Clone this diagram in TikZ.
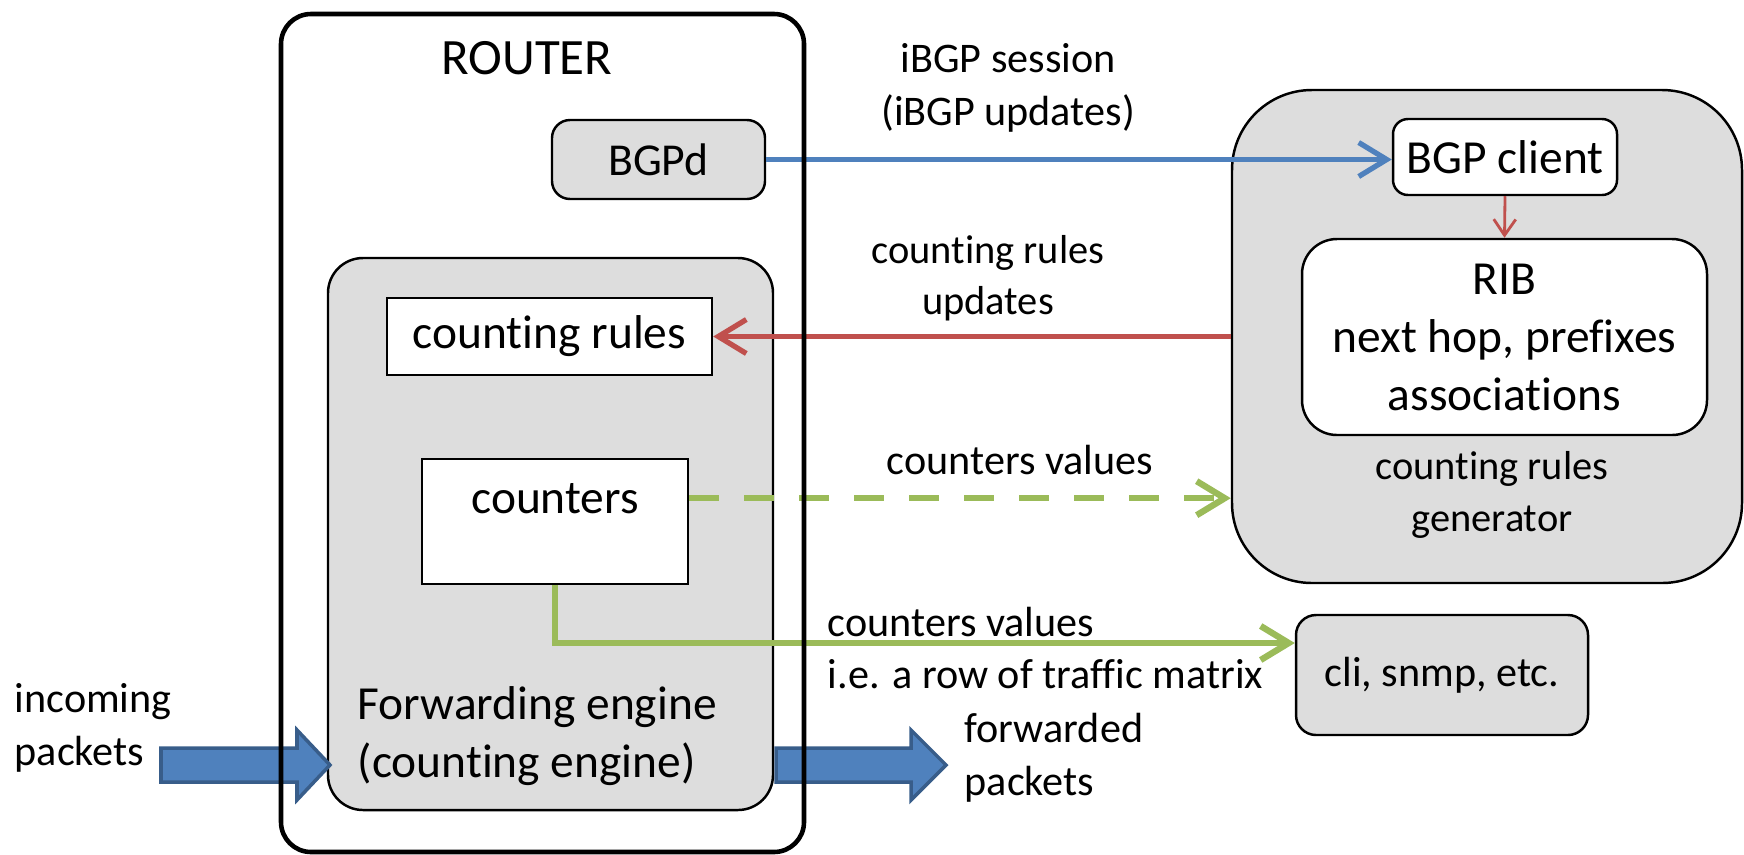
\documentclass[tikz,border=0pt]{standalone}
\usepackage{fontspec}
\setmainfont{Carlito}[Ligatures=NoCommon]
\usetikzlibrary{arrows.meta}

\definecolor{boxgray}{HTML}{DDDDDD}
\definecolor{bgpblue}{HTML}{4F81BD}
\definecolor{arrowborder}{HTML}{385D8A}
\definecolor{rulered}{HTML}{C0504D}
\definecolor{countgreen}{HTML}{9BBB59}

\begin{document}
\begin{tikzpicture}
        % Styles
        \tikzstyle{label text}=[font=\fontsize{12}{15}\selectfont,align=center,inner sep=0pt]
        \tikzstyle{box text}=[font=\fontsize{13.5}{16.5}\selectfont,align=center,inner sep=0pt]
        \tikzstyle{gray box}=[draw,line width=0.7pt,fill=boxgray,rounded corners=0.18cm,box text]
        \tikzstyle{white box}=[draw,line width=0.7pt,fill=white,box text]
        \tikzstyle{block arrow}=[draw=arrowborder,line width=1pt,fill=bgpblue,line join=miter]
        \tikzstyle{session line}=[bgpblue,line width=1.5pt,-{Straight Barb[length=0.28cm,width=0.34cm]}]
        \tikzstyle{rules line}=[rulered,line width=1.5pt,-{Straight Barb[length=0.28cm,width=0.34cm]}]
        \tikzstyle{rib line}=[rulered,line width=0.8pt,-{Straight Barb[length=0.16cm,width=0.22cm]}]
        \tikzstyle{values line}=[countgreen,line width=1.8pt,-{Straight Barb[length=0.28cm,width=0.34cm]}]
        %The graphic
        \useasboundingbox (0,0) rectangle (17.44,-8.54);
        %router side
        \node[gray box,font=\fontsize{13}{16}\selectfont,minimum width=2.13cm,minimum height=0.79cm] (bgpd) at (6.585,-1.595) {BGPd};
        \node[gray box,rounded corners=0.35cm,minimum width=4.45cm,minimum height=5.52cm] (fwd) at (5.505,-5.34) {};
        \node[white box,minimum width=3.25cm,minimum height=0.77cm] (rules) at (5.495,-3.365) {counting rules};
        \node[white box,minimum width=2.66cm,minimum height=1.25cm] (counters) at (5.55,-5.215) {};
        \node[box text,anchor=base] (counterstext) at (5.55,-5.13) {counters};
        \node[box text,align=left,anchor=west] (fwdtext) at (3.57,-7.36) {Forwarding engine\\(counting engine)};
        %generator side
        \node[gray box,rounded corners=0.8cm,minimum width=5.1cm,minimum height=4.93cm] (generator) at (14.87,-3.365) {};
        \node[white box,rounded corners=0.15cm,minimum width=2.24cm,minimum height=0.76cm] (client) at (15.05,-1.57) {BGP client};
        \node[white box,rounded corners=0.35cm,minimum width=4.05cm,minimum height=1.96cm] (rib) at (15.045,-3.37) {RIB\\next hop, prefixes\\associations};
        \node[label text,font=\fontsize{11.5}{14.8}\selectfont] (gentext) at (14.92,-4.95) {counting rules\\generator};
        \node[gray box,rounded corners=0.2cm,font=\fontsize{12}{15}\selectfont,minimum width=2.92cm,minimum height=1.2cm] (cli) at (14.42,-6.75) {cli, snmp, etc.};
        %packets
        \draw[block arrow] (1.61,-7.48) -- (2.97,-7.48) -- (2.97,-7.30) -- (3.30,-7.65) -- (2.97,-8.00) -- (2.97,-7.82) -- (1.61,-7.82) -- cycle;
        \draw[block arrow] (7.76,-7.48) -- (9.11,-7.48) -- (9.11,-7.30) -- (9.46,-7.65) -- (9.11,-8.00) -- (9.11,-7.82) -- (7.76,-7.82) -- cycle;
        %connectors
        \draw[session line] (bgpd.east) -- (bgpd.east -| client.west);
        \draw[rules line] (generator.west |- rules.east) -- (rules.east);
        \draw[rib line] (client.south) -- (rib.north);
        \draw[values line,dash pattern=on 0.3cm off 0.25cm] (counters.east |- counterstext) -- (generator.west |- counterstext);
        \draw[values line] (counters.south) |- ([yshift=0.32cm]cli.west);
        %labels
        \node[label text] (sessionlabel) at (10.08,-0.88) {iBGP session\\(iBGP updates)};
        \node[label text,font=\fontsize{11.5}{14.5}\selectfont] (ruleslabel) at (9.88,-2.78) {counting rules\\updates};
        \node[label text,anchor=base] (valueslabel) at (10.2,-4.74) {counters values};
        \node[label text,align=left,anchor=west] (matrixlabel) at (8.27,-6.48) {counters values\\i.e. a row of traffic matrix};
        \node[label text,align=left,anchor=west] (inlabel) at (0.14,-7.28) {incoming\\packets};
        \node[label text,align=left,anchor=west] (outlabel) at (9.64,-7.58) {forwarded\\packets};
        %router frame
        \node[draw,line width=1.3pt,rounded corners=0.3cm,minimum width=5.23cm,minimum height=8.38cm] (router) at (5.425,-4.33) {};
        \node[font=\fontsize{14.5}{17}\selectfont,anchor=base] (routertext) at (5.27,-0.74) {ROUTER};
\end{tikzpicture}
\end{document}
